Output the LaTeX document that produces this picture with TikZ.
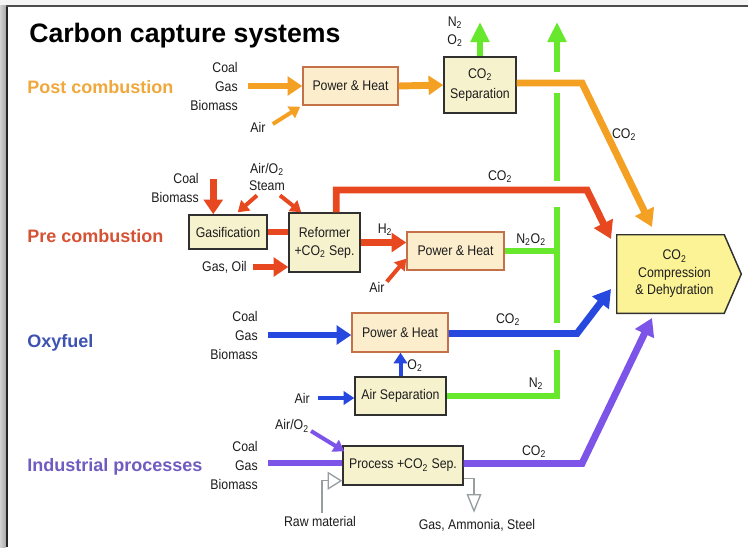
\documentclass[tikz,border=0pt]{standalone}
\usepackage{fontspec}
\setmainfont{Liberation Sans}
\newfontfamily\narrowsf[FakeStretch=0.88]{Liberation Sans}
\usetikzlibrary{arrows.meta,calc}

\definecolor{flowOrange}{RGB}{243,160,35}
\definecolor{flowRed}{RGB}{232,72,32}
\definecolor{flowBlue}{RGB}{38,72,222}
\definecolor{flowPurple}{RGB}{124,84,232}
\definecolor{flowGreen}{RGB}{104,232,44}
\definecolor{flowGray}{RGB}{150,158,160}
\definecolor{txtOrange}{RGB}{240,168,60}
\definecolor{txtRed}{RGB}{214,82,52}
\definecolor{txtBlue}{RGB}{62,82,178}
\definecolor{txtPurple}{RGB}{112,92,192}
\definecolor{boxFill}{RGB}{247,242,206}
\definecolor{phFill}{RGB}{252,238,204}
\definecolor{phEdge}{RGB}{196,112,72}
\definecolor{compFill}{RGB}{252,242,150}
\definecolor{edgeDark}{RGB}{48,48,48}
\definecolor{labelInk}{RGB}{28,28,28}

\newcommand\sub[1]{\textsubscript{#1}}

\tikzset{
  sz/.style 2 args={minimum width=#1*0.75pt, minimum height=#2*0.75pt},
  unit/.style={draw=edgeDark, line width=1.1pt, fill=boxFill, inner sep=0pt,
    align=center, font=\narrowsf\fontsize{10.5}{14.25}\selectfont, text=labelInk},
  phunit/.style={unit, draw=phEdge, fill=phFill},
  lbl/.style={inner sep=0pt, align=center,
    font=\narrowsf\fontsize{10.5}{14.25}\selectfont, text=labelInk},
  rowlbl/.style={inner sep=0pt, anchor=base west,
    font=\bfseries\fontsize{13.5}{16}\selectfont},
  heavy/.style={line width=5.2pt, -{Triangle[length=11pt,width=14pt]}},
  heavyline/.style={line width=5.2pt},
  light/.style={line width=3pt, -{Triangle[length=8pt,width=10pt]}},
  vent/.style={flowGreen, line width=4.5pt},
  ventarrow/.style={vent, -{Triangle[length=15pt,width=13.5pt]}},
  matflow/.style={flowGray, line width=1pt},
}

\begin{document}
\begin{tikzpicture}[x=0.75pt,y=-0.75pt]
\useasboundingbox (0,0) rectangle (748,547);

% slide frame
\fill[white] (0,0) rectangle (748,547);
\fill[gray!8] (0,0) rectangle (748,5);
\shade[left color=gray!35, right color=gray!65] (0,5) rectangle (5.5,547);
\draw[black!85, line width=1.5pt] (6.5,5) -- (6.5,547);
\draw[black!70, line width=1.5pt] (5.5,6) -- (748,6);

% title and row headings
\node[anchor=base west, inner sep=0pt, font=\bfseries\fontsize{20}{24}\selectfont]
  (title) at (29,42) {Carbon capture systems};
\node[rowlbl, text=txtOrange] (rowPost) at (27,93) {Post combustion};
\node[rowlbl, text=txtRed] (rowPre) at (27,242) {Pre combustion};
\node[rowlbl, text=txtBlue] (rowOxy) at (27,347) {Oxyfuel};
\node[rowlbl, text=txtPurple] (rowInd) at (27,471) {Industrial processes};

% ---------- process units ----------
\node[phunit, sz={95}{38}] (ph1) at (350.5,86) {Power \& Heat};
\node[unit, sz={72}{56}, font=\narrowsf\fontsize{10.5}{15}\selectfont]
  (sep1) at (480,85) {CO\sub2\\Separation};
\node[unit, sz={78}{34}] (gas) at (228,232) {Gasification};
\node[unit, sz={71}{59}, font=\narrowsf\fontsize{10.5}{13.5}\selectfont]
  (ref) at (324.5,242.5) {Reformer\\+CO\sub2 Sep.};
\node[phunit, sz={97}{38}] (ph2) at (455.5,251) {Power \& Heat};
\node[phunit, sz={96}{39}] (ph3) at (400,332.5) {Power \& Heat};
\node[unit, sz={91}{38}] (asep) at (400.5,396) {Air Separation};
\node[unit, sz={120}{39}] (proc) at (403,465.5) {Process +CO\sub2 Sep.};

% compression unit (arrow-shaped box)
\node[inner sep=0pt, sz={107}{78}] (comp) at (670.5,274) {};
\draw[edgeDark, fill=compFill, line width=1.1pt]
  (comp.north west) -- (comp.north east) -- ($(comp.east)+(17,0)$)
  -- (comp.south east) -- (comp.south west) -- cycle;
\node[lbl, font=\narrowsf\fontsize{10.5}{13.1}\selectfont]
  (compText) at ($(comp.center)+(4,0)$) {CO\sub2\\Compression\\\& Dehydration};

% ---------- labels ----------
\node[lbl, anchor=east, align=right] (fuelP) at (238,86) {Coal\\Gas\\Biomass};
\node[lbl] (airP) at (258,127) {Air};
\node[lbl, font=\narrowsf\fontsize{10.5}{13.5}\selectfont] (ventLbl) at (455,32) {N\sub2\\O\sub2};
\node[lbl] (co2Post) at (624,135) {CO\sub2};

\node[lbl, anchor=east, align=right] (fuelR) at (199,187.5) {Coal\\Biomass};
\node[lbl, font=\narrowsf\fontsize{10.5}{12.75}\selectfont] (airR) at (267,176.5) {Air/O\sub2\\Steam};
\node[lbl, anchor=east] (oilR) at (247,267) {Gas, Oil};
\node[lbl] (h2) at (385,230) {H\sub2};
\node[lbl] (airR2) at (377,287) {Air};
\node[lbl] (n2o2) at (531,240) {N\sub2O\sub2};
\node[lbl] (co2Pre) at (500,177) {CO\sub2};

\node[lbl, anchor=east, align=right] (fuelO) at (258,335) {Coal\\Gas\\Biomass};
\node[lbl, anchor=east] (airO) at (310,398) {Air};
\node[lbl] (o2) at (415,366) {O\sub2};
\node[lbl] (co2Oxy) at (508,320) {CO\sub2};
\node[lbl] (n2) at (536,384) {N\sub2};

\node[lbl, anchor=east, align=right] (fuelI) at (258,465) {Coal\\Gas\\Biomass};
\node[lbl] (airI) at (292,426) {Air/O\sub2};
\node[lbl] (raw) at (320,521) {Raw material};
\node[lbl] (prod) at (477,525) {Gas, Ammonia, Steel};
\node[lbl] (co2Ind) at (534,452) {CO\sub2};

% ---------- bend points and free ends ----------
\coordinate (ventTop) at (480,22);
\coordinate (riserTop) at (557,22);
\coordinate (gapA) at (557,72);
\coordinate (gapB) at (557,93);
\coordinate (gapC) at (557,181);
\coordinate (gapD) at (557,207);
\coordinate (gapE) at (557,323);
\coordinate (gapF) at (557,350);
\coordinate (bendPost) at (582,83);
\coordinate (tipPost) at (652,227);
\coordinate (bendPre) at (587,190);
\coordinate (tipPre) at (611,239);
\coordinate (bendOxy) at (577,333.5);
\coordinate (tipOxy) at (611,289);
\coordinate (bendInd) at (582,463.5);
\coordinate (tipInd) at (652,318);

% ---------- vent (green) lines ----------
\draw[ventarrow] (sep1.north) -- (ventTop);
\draw[ventarrow] (gapA) -- (riserTop);
\draw[vent] (gapB) -- (gapC);
\draw[vent] (gapD) -- (gapE);
\draw[vent] (asep.east) -| (gapF);
\draw[vent] (ph2.east) -- (ph2.east -| riserTop);

% ---------- post combustion ----------
\draw[heavy, flowOrange] ($(fuelP.east)+(10,0)$) -- (fuelP.east -| ph1.west);
\draw[light, flowOrange] ($(airP.east)+(7,-3)$) -- ($(ph1.south west)+(-2,1)$);
\draw[heavy, flowOrange] (ph1.east) -- (sep1.west);
\draw[heavy, flowOrange, -{Triangle[length=13pt,width=15pt]}]
  ($(sep1.east)+(0,-2)$) -- (bendPost) -- (tipPost);

% ---------- pre combustion ----------
\draw[heavy, flowRed] ($(gas.north west)+(25,-35)$) -- ($(gas.north west)+(25,0)$);
\draw[light, flowRed] ($(airR.south)+(-10,5)$) -- ($(gas.north east)+(-30,-2)$);
\draw[light, flowRed] ($(airR.south)+(13,5)$) -- ($(ref.north west)+(13,0)$);
\draw[heavyline, flowRed] (gas.east) -- (gas.east -| ref.west);
\draw[heavy, flowRed] ($(oilR.east)+(6,0)$) -- (oilR.east -| ref.west);
\draw[heavy, flowRed, -{Triangle[length=13pt,width=15pt]}]
  ($(ref.north west)+(48,0)$) |- (bendPre) -- (tipPre);
\draw[heavy, flowRed] (ref.east) -- (ref.east -| ph2.west);
\draw[light, flowRed] ($(airR2.north east)+(2,0)$) -- ($(ph2.south west)+(0,-12)$);

% ---------- oxyfuel ----------
\draw[heavy, flowBlue] ($(fuelO.east)+(10,0)$) -- (fuelO.east -| ph3.west);
\draw[light, flowBlue] (asep.north) -- (asep.north |- ph3.south);
\draw[light, flowBlue] ($(airO.east)+(8,0)$) -- (airO.east -| asep.west);
\draw[heavy, flowBlue, -{Triangle[length=13pt,width=15pt]}]
  ($(ph3.east)+(0,1)$) -- (bendOxy) -- (tipOxy);

% ---------- industrial processes ----------
\draw[heavyline, flowPurple] ($(fuelI.east)+(10,-2)$) -- ($(fuelI.east -| proc.west)+(0,-2)$);
\draw[light, flowPurple] ($(airI.east)+(2,5)$) -- ($(proc.north west)+(2,6)$);
\draw[heavy, flowPurple, -{Triangle[length=13pt,width=15pt]}]
  ($(proc.east)+(0,-2)$) -- (bendInd) -- (tipInd);
\draw[matflow, -{Triangle[open,length=11pt,width=13.5pt]}]
  ($(raw.north)+(2,-3)$) |- ($(proc.south west)+(0,-5)$);
\draw[matflow, -{Triangle[open,length=14pt,width=11pt]}]
  ($(proc.south east)+(0,-7)$) -| ($(prod.north)+(-3,-6)$);

\end{tikzpicture}
\end{document}
